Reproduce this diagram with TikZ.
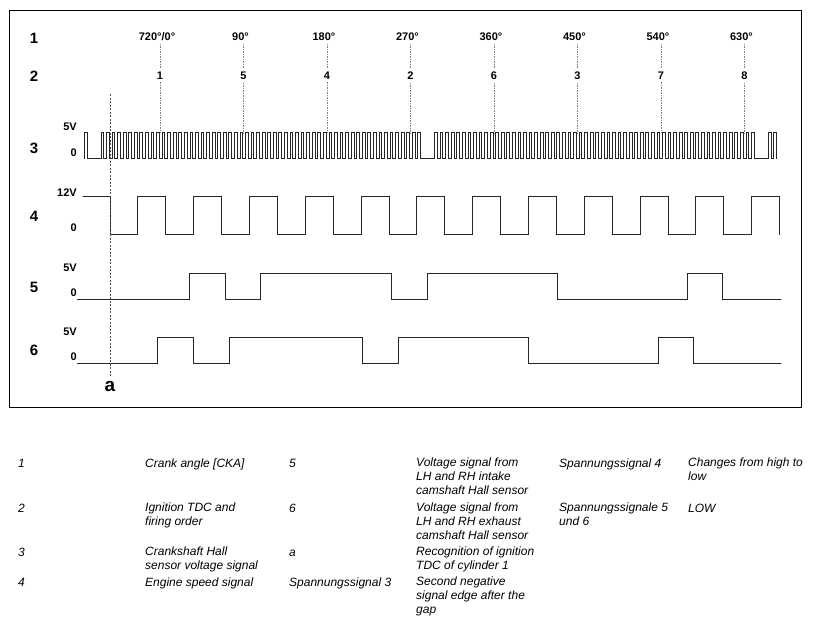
\documentclass[tikz,border=0pt]{standalone}
\usepackage{fontspec}
\setmainfont{Liberation Sans}

\begin{document}
\begin{tikzpicture}[x=1pt,y=-1pt,
            sig/.style={line width=0.9pt,black!85},
            tdcline/.style={gray,line width=0.6pt,dash pattern=on 1.5pt off 1pt},
            aline/.style={black!70,line width=0.6pt,dash pattern=on 2pt off 1.5pt},
            rownum/.style={font=\fontsize{15}{18}\selectfont\bfseries},
            lvl/.style={anchor=east,inner sep=0pt,font=\fontsize{11}{13}\selectfont\bfseries},
            tick/.style={inner sep=3pt,font=\fontsize{11}{13}\selectfont\bfseries},
            legend/.style={anchor=north west,inner sep=0pt,align=left,execute at begin node=\strut,font=\fontsize{12}{14.3}\selectfont\itshape}]
            \fill[white] (0,0) rectangle (814,624);
            \useasboundingbox (0,0) rectangle (814,624);
            \draw[line width=1pt] (9,10) rectangle (801,407);
            \node[rownum] (r1) at (34,38.5) {1};
            \node[rownum] (r2) at (34,76) {2};
            \node[rownum] (r3) at (34,148) {3};
            \node[rownum] (r4) at (34,216.7) {4};
            \node[rownum] (r5) at (34,287.2) {5};
            \node[rownum] (r6) at (34,350.5) {6};
            \foreach \x/\ang/\cyl [count=\i] in {160/{720°/0°}/1,243.5/90°/5,327/180°/4,410.5/270°/2,494/360°/6,577.5/450°/3,661/540°/7,744.5/630°/8}{
                \node[tick,xshift=-3pt] (ang\i) at (\x,36.7) {\ang};
                \node[tick] (ord\i) at (\x,75.5) {\cyl};
                \coordinate (tdc\i) at (\x,132.7);
                \draw[tdcline] (ord\i |- ang\i.south) -- (ord\i.north);
                \draw[tdcline] (ord\i.south) -- (tdc\i);
            }
            \node[lvl] (v3h) at (77,126.7) {5V};
            \node[lvl] (v3l) at (77,153) {0};
            \node[lvl] (v4h) at (77,192.5) {12V};
            \node[lvl] (v4l) at (77,228) {0};
            \node[lvl] (v5h) at (77,267.3) {5V};
            \node[lvl] (v5l) at (77,292.7) {0};
            \node[lvl] (v6h) at (77,331.7) {5V};
            \node[lvl] (v6l) at (77,356.7) {0};
            \draw[sig] (84.3,158.7) -- ++(0,-26) -- ++(2.78,0) -- ++(0,26) -- (101,158.7)
                foreach \r in {1,2}{ foreach \t in {1,...,58}{ -- ++(0,-26) -- ++(2.78,0) -- ++(0,26) -- ++(2.78,0)} -- ++(11.12,0)}
                -- ++(0,-26) -- ++(2.78,0) -- ++(0,26) -- ++(2.78,0) -- ++(0,-26) -- ++(2.78,0) -- ++(0,26);
            \draw[sig] (83,196.7) -- (110,196.7) -- (110,234.5)
                foreach \t in {1,...,12}{ -- ++(27.9,0) -- ++(0,-37.8) -- ++(27.9,0) -- ++(0,37.8)};
            \draw[sig] (77,299) -| (189,273.5) -| (225,299) -| (260,273.5) -| (391,299) -| (427,273.5) -| (557,299) -| (687,273.5) -| (722,299) -- (781,299);
            \draw[sig] (77,363) -| (157,337.3) -| (193,363) -| (229,337.3) -| (362,363) -| (398,337.3) -| (528,363) -| (658,337.3) -| (693,363) -- (781,363);
            \coordinate (atop) at (110,94);
            \node[font=\fontsize{19}{22}\selectfont\bfseries,inner sep=4pt] (a) at (110,386) {a};
            \draw[aline] (atop) -- (a);
            \node[legend] (k1) at (18,457.3) {1};
            \node[legend] (t1) at (145,457.3) {Crank angle [CKA]};
            \node[legend] (k5) at (289,457.3) {5};
            \node[legend] (t5) at (416,457.3) {Voltage signal from\\LH and RH intake\\camshaft Hall sensor};
            \node[legend] (g4) at (559,457.3) {Spannungssignal 4};
            \node[legend] (h4) at (688,457.3) {Changes from high to\\low};
            \node[legend] (k2) at (18,502.3) {2};
            \node[legend] (t2) at (145,502.3) {Ignition TDC and\\firing order};
            \node[legend] (k6) at (289,502.3) {6};
            \node[legend] (t6) at (416,502.3) {Voltage signal from\\LH and RH exhaust\\camshaft Hall sensor};
            \node[legend] (g56) at (559,502.3) {Spannungssignale 5\\und 6};
            \node[legend] (h56) at (688,502.3) {LOW};
            \node[legend] (k3) at (18,546.3) {3};
            \node[legend] (t3) at (145,546.3) {Crankshaft Hall\\sensor voltage signal};
            \node[legend] (ka) at (289,546.3) {a};
            \node[legend] (ta) at (416,546.3) {Recognition of ignition\\TDC of cylinder 1};
            \node[legend] (k4) at (18,576.3) {4};
            \node[legend] (t4) at (145,576.3) {Engine speed signal};
            \node[legend] (g3) at (289,576.3) {Spannungssignal 3};
            \node[legend] (h3) at (416,576.3) {Second negative\\signal edge after the\\gap};
\end{tikzpicture}
\end{document}
